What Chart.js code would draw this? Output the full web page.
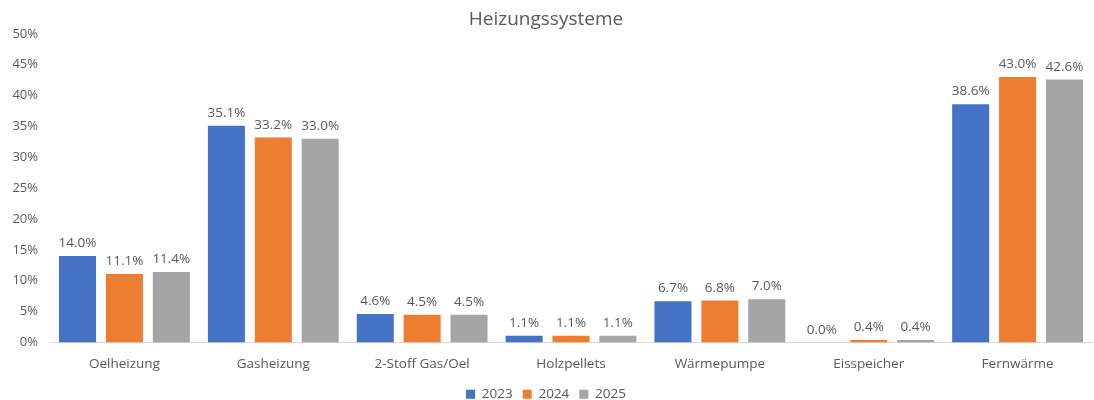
<!DOCTYPE html>
<html lang="de">
<head>
    <meta charset="UTF-8">
    <title>Heizungssysteme</title>
    <style>
        body { margin: 0; background: #fff; }
        #wrap { width: 1094px; height: 400px; }
    </style>
</head>
<body>
    <div id="wrap">
        <canvas id="myChart" width="1094" height="400"></canvas>
    </div>

    <script src="https://cdn.jsdelivr.net/npm/chart.js"></script>
    <script>
        const categories = ['Oelheizung', 'Gasheizung', '2-Stoff Gas/Oel', 'Holzpellets', 'Wärmepumpe', 'Eisspeicher', 'Fernwärme'];
        const years = ['2023', '2024', '2025'];
        const values2023 = [14.0, 35.1, 4.6, 1.1, 6.7, 0.0, 38.6];
        const values2024 = [11.1, 33.2, 4.5, 1.1, 6.8, 0.4, 43.0];
        const values2025 = [11.4, 33.0, 4.5, 1.1, 7.0, 0.4, 42.6];
        const yTicks = [0, 5, 10, 15, 20, 25, 30, 35, 40, 45, 50];

        const colors = ['#4472C4', '#ED7D31', '#A5A5A5'];
        const textColor = '#595959';
        const fontFamily = '"Open Sans", "Noto Sans", sans-serif';

        // draws the value above each bar (no datalabels plugin offline)
        const valueLabels = {
            id: 'valueLabels',
            afterDatasetsDraw(chart) {
                const c = chart.ctx;
                c.save();
                c.font = '13.5px ' + fontFamily;
                c.fillStyle = textColor;
                c.textAlign = 'center';
                c.textBaseline = 'bottom';
                chart.data.datasets.forEach((ds, i) => {
                    chart.getDatasetMeta(i).data.forEach((bar, j) => {
                        c.fillText(ds.data[j].toFixed(1) + '%', bar.x, bar.y - 6);
                    });
                });
                c.restore();
            }
        };

        const ctx = document.getElementById('myChart');

        new Chart(ctx, {
            type: 'bar',
            data: {
                labels: categories,
                datasets: [
                    { label: years[0], data: values2023, backgroundColor: colors[0] },
                    { label: years[1], data: values2024, backgroundColor: colors[1] },
                    { label: years[2], data: values2025, backgroundColor: colors[2] }
                ]
            },
            options: {
                responsive: false,
                animation: false,
                layout: { padding: { left: 0, right: 2, top: 0, bottom: -11 } },
                datasets: {
                    bar: { categoryPercentage: 0.945, barPercentage: 0.79 }
                },
                plugins: {
                    title: {
                        display: true,
                        text: 'Heizungssysteme',
                        color: textColor,
                        font: { family: fontFamily, size: 19, weight: 'normal' },
                        padding: { top: 8, bottom: 3 }
                    },
                    legend: {
                        position: 'bottom',
                        labels: {
                            color: textColor,
                            font: { family: fontFamily, size: 13.5 },
                            boxWidth: 9,
                            boxHeight: 9,
                            padding: 10
                        }
                    },
                    tooltip: { enabled: false }
                },
                scales: {
                    x: {
                        afterFit: (scale) => { scale.height = 35; },
                        grid: { display: false, drawTicks: false },
                        border: { display: true, color: '#D9D9D9' },
                        ticks: {
                            color: textColor,
                            font: { family: fontFamily, size: 13.5 },
                            padding: 14,
                            maxRotation: 0
                        }
                    },
                    y: {
                        min: 0,
                        max: 50,
                        afterBuildTicks: (scale) => { scale.ticks = yTicks.map(v => ({ value: v })); },
                        afterFit: (scale) => { scale.width = 50; },
                        grid: { display: false, drawTicks: false },
                        border: { display: false },
                        ticks: {
                            color: textColor,
                            font: { family: fontFamily, size: 13 },
                            padding: 12,
                            callback: (v) => v + '%'
                        }
                    }
                }
            },
            plugins: [valueLabels]
        });
    </script>
</body>
</html>
